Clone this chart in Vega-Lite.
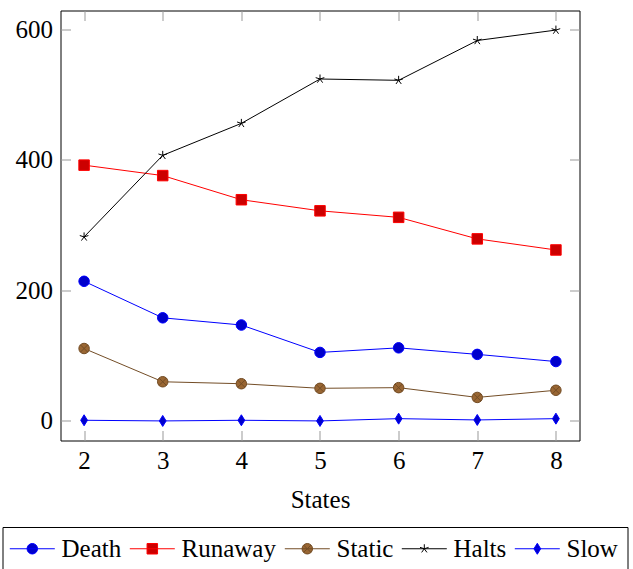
{
  "$schema": "https://vega.github.io/schema/vega-lite/v6.json",
  "width": 519,
  "height": 430,
  "autosize": {"type": "none"},
  "padding": {"left": 60.5, "top": 10.5, "right": 53.5, "bottom": 128.5},
  "background": "white",
  "config": {
    "view": {"stroke": "black", "strokeWidth": 1},
    "font": "Liberation Serif"
  },
  "data": {
    "values": [
      {"State": 2, "series": "Death", "value": 214},
      {"State": 3, "series": "Death", "value": 158},
      {"State": 4, "series": "Death", "value": 147},
      {"State": 5, "series": "Death", "value": 105},
      {"State": 6, "series": "Death", "value": 112},
      {"State": 7, "series": "Death", "value": 102},
      {"State": 8, "series": "Death", "value": 91},
      {"State": 2, "series": "Runaway", "value": 392},
      {"State": 3, "series": "Runaway", "value": 376},
      {"State": 4, "series": "Runaway", "value": 339},
      {"State": 5, "series": "Runaway", "value": 322},
      {"State": 6, "series": "Runaway", "value": 312},
      {"State": 7, "series": "Runaway", "value": 279},
      {"State": 8, "series": "Runaway", "value": 262},
      {"State": 2, "series": "Static", "value": 111},
      {"State": 3, "series": "Static", "value": 60},
      {"State": 4, "series": "Static", "value": 57},
      {"State": 5, "series": "Static", "value": 50},
      {"State": 6, "series": "Static", "value": 51},
      {"State": 7, "series": "Static", "value": 36},
      {"State": 8, "series": "Static", "value": 47},
      {"State": 2, "series": "Halts", "value": 282},
      {"State": 3, "series": "Halts", "value": 407},
      {"State": 4, "series": "Halts", "value": 456},
      {"State": 5, "series": "Halts", "value": 524},
      {"State": 6, "series": "Halts", "value": 522},
      {"State": 7, "series": "Halts", "value": 583},
      {"State": 8, "series": "Halts", "value": 599},
      {"State": 2, "series": "Slow", "value": 1},
      {"State": 3, "series": "Slow", "value": 0},
      {"State": 4, "series": "Slow", "value": 1},
      {"State": 5, "series": "Slow", "value": 0},
      {"State": 6, "series": "Slow", "value": 3.5},
      {"State": 7, "series": "Slow", "value": 1.5},
      {"State": 8, "series": "Slow", "value": 3.5}
    ]
  },
  "layer": [
    {
      "mark": {"type": "line", "strokeWidth": 1},
      "encoding": {
        "x": {
          "field": "State", "type": "quantitative",
          "scale": {"domain": [1.7, 8.3], "nice": false, "zero": false},
          "axis": {
            "orient": "bottom", "values": [2, 3, 4, 5, 6, 7, 8], "format": "d",
            "title": "States", "domain": false, "grid": false,
            "tickSize": -10, "tickColor": "#999", "tickWidth": 1,
            "labelPadding": 18, "labelFont": "Liberation Serif", "labelFontSize": 25,
            "labelColor": "black", "labelFlush": false, "labelOverlap": false,
            "titleFont": "Liberation Serif", "titleFontSize": 25, "titleFontWeight": "normal",
            "titleColor": "black", "titlePadding": 14
          }
        },
        "y": {
          "field": "value", "type": "quantitative",
          "scale": {"domain": [-30, 629], "nice": false, "zero": false},
          "axis": {
            "orient": "left", "values": [0, 200, 400, 600], "format": "d",
            "title": null, "domain": false, "grid": false,
            "tickSize": -10, "tickColor": "#999", "tickWidth": 1,
            "labelPadding": 18, "labelFont": "Liberation Serif", "labelFontSize": 25,
            "labelColor": "black", "labelOverlap": false
          }
        },
        "stroke": {
          "field": "series", "type": "nominal",
          "scale": {
            "domain": ["Death", "Runaway", "Static", "Halts", "Slow"],
            "range": ["#0000ff", "#ff0000", "#734d26", "#000000", "#0000ff"]
          },
          "legend": null
        },
        "detail": {"field": "series"}
      }
    },
    {
      "mark": {"type": "point", "filled": true, "size": 100, "opacity": 1, "strokeWidth": 1},
      "encoding": {
        "x": {
          "field": "State", "type": "quantitative",
          "axis": {
            "orient": "top", "values": [2, 3, 4, 5, 6, 7, 8], "labels": false,
            "title": null, "domain": false, "grid": false,
            "tickSize": -10, "tickColor": "#999", "tickWidth": 1
          }
        },
        "y": {
          "field": "value", "type": "quantitative",
          "axis": {
            "orient": "right", "values": [0, 200, 400, 600], "labels": false,
            "title": null, "domain": false, "grid": false,
            "tickSize": -10, "tickColor": "#999", "tickWidth": 1
          }
        },
        "stroke": {"field": "series", "type": "nominal", "legend": null},
        "fill": {
          "field": "series", "type": "nominal",
          "scale": {
            "domain": ["Death", "Runaway", "Static", "Halts", "Slow"],
            "range": ["#0000cc", "#cc0000", "#996633", "#000000", "#0000cc"]
          },
          "legend": null
        },
        "shape": {
          "field": "series", "type": "nominal",
          "scale": {
            "domain": ["Death", "Runaway", "Static", "Halts", "Slow"],
            "range": [
              "M-1.05,0A1.05,1.05,0,1,1,1.05,0A1.05,1.05,0,1,1,-1.05,0Z",
              "M-1.05,-1.05H1.05V1.05H-1.05Z",
              "M-1.05,0A1.05,1.05,0,1,1,1.05,0A1.05,1.05,0,1,1,-1.05,0ZM-0.74,-0.74L0.74,0.74M-0.74,0.74L0.74,-0.74",
              "M0,0L0,-0.9M0,0L-0.86,-0.28M0,0L-0.53,0.73M0,0L0.53,0.73M0,0L0.86,-0.28",
              "M0,-1.1L0.68,0L0,1.1L-0.68,0Z"
            ]
          },
          "legend": null
        }
      }
    },
    {
      "transform": [{"filter": "false"}],
      "mark": {
        "type": "point", "filled": true, "size": 100, "opacity": 1, "strokeWidth": 1,
        "fill": {"expr": "scale('fill', datum.value)"},
        "stroke": {"expr": "scale('stroke', datum.value)"}
      },
      "encoding": {
        "shape": {
          "field": "series", "type": "nominal",
          "scale": {
            "domain": ["Death", "Runaway", "Static", "Halts", "Slow"],
            "range": [
              "M-4.5,0H4.5M-1.05,0A1.05,1.05,0,1,1,1.05,0A1.05,1.05,0,1,1,-1.05,0Z",
              "M-4.5,0H4.5M-1.05,-1.05H1.05V1.05H-1.05Z",
              "M-4.5,0H4.5M-1.05,0A1.05,1.05,0,1,1,1.05,0A1.05,1.05,0,1,1,-1.05,0ZM-0.74,-0.74L0.74,0.74M-0.74,0.74L0.74,-0.74",
              "M-4.5,0H4.5M0,0L0,-0.9M0,0L-0.86,-0.28M0,0L-0.53,0.73M0,0L0.53,0.73M0,0L0.86,-0.28",
              "M-4.5,0H4.5M0,-1.1L0.68,0L0,1.1L-0.68,0Z"
            ]
          },
          "legend": {
            "orient": "none", "legendX": -58, "legendY": 516.5,
            "direction": "horizontal", "columns": 5,
            "title": null,
            "padding": 9, "strokeColor": "black", "fillColor": "white",
            "cornerRadius": 0,
            "symbolSize": 100, "symbolStrokeWidth": 1, "symbolOffset": 8.3,
            "labelFont": "Liberation Serif", "labelFontSize": 25, "labelColor": "black",
            "labelOffset": 16.7, "columnPadding": 6, "labelLimit": 300
          }
        }
      }
    }
  ],
  "resolve": {
    "scale": {"shape": "independent"},
    "axis": {"x": "independent", "y": "independent"}
  }
}
